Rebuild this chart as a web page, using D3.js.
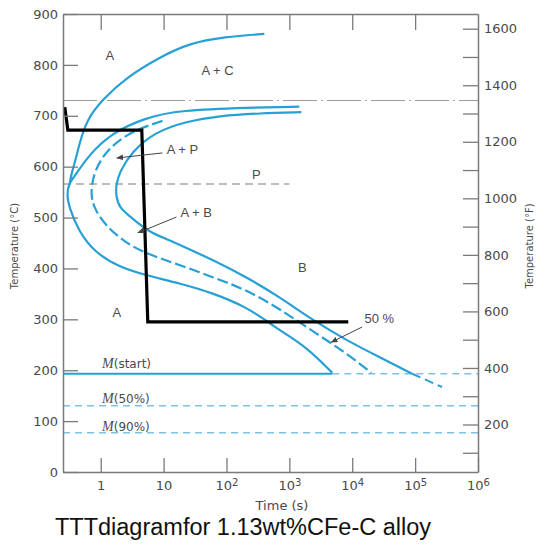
<!DOCTYPE html>
<html><head><meta charset="utf-8">
<script src="https://cdn.jsdelivr.net/npm/d3@7"></script>
<style>body{margin:0;background:#fff}svg{display:block}</style>
</head><body><svg id="c" width="538" height="544"></svg>
<script>
// ---- data (time in s, temperature in °C) ----
const timeTicks = [1, 10, 100, 1000, 10000, 100000, 1000000];
const timeTickLabels = ["1", "10", "10^2", "10^3", "10^4", "10^5", "10^6"];
const celsiusTicks = [0, 100, 200, 300, 400, 500, 600, 700, 800, 900];
const fahrenheitTicks = [100, 200, 300, 400, 500, 600, 700, 800, 900, 1000, 1100, 1200, 1300, 1400, 1500, 1600];

const acCurveT = [0.32, 0.34, 0.39, 0.46, 0.60, 1.04, 2.6, 8.6, 26, 93, 400];
const acCurveC = [566, 585, 609, 646, 692, 731, 776, 815, 843, 855, 861];

const startT = [1440, 232, 18, 5.0, 1.5, 0.645, 0.37, 0.31, 0.29, 0.31, 0.45, 0.80, 1.93, 5.0, 18, 60, 208, 482, 693, 1860, 4820];
const startC = [718, 716, 711, 696, 666, 623, 578, 566, 545, 522, 472, 432, 403, 387, 371, 352, 324, 293, 279, 246, 195];

const midT = [9.6, 2.8, 1.16, 0.80, 0.72, 0.71, 0.76, 1.16, 2.4, 5.0, 18, 60, 208, 693, 2320, 8030, 20000];
const midC = [690, 668, 629, 590, 564, 544, 522, 485, 452, 430, 407, 383, 358, 321, 277, 234, 195];

const endT = [1550, 334, 77, 23, 7.2, 3.1, 2.0, 1.75, 1.75, 1.95, 3.3, 5.8, 12, 21.5, 60, 208, 693, 2320, 8030, 26900, 89600];
const endC = [707, 705, 700, 689, 668, 629, 590, 564, 544, 519, 497, 472, 456, 442, 417, 383, 344, 299, 259, 226, 193];
const endDashT = [89600, 268000];
const endDashC = [193, 167];

const pathT = [0.268, 0.30, 4.5, 5.6, 8650];
const pathC = [717, 672, 672, 295, 295];

const eutectoidC = 730;
const pLineC = 566, pLineEndT = 1000;
const msC = 193, msEndT = 4820;
const m50C = 130, m90C = 77;

const regionLabels = ["A", "A + C", "A + P", "P", "A + B", "B", "A", "50 %"];
const regionT = [1.39, 72, 20, 299, 33, 1607, 1.8, 26900];
const regionC = [819, 790, 633, 584, 511, 401, 314, 301];

const leaderFromT = [9.6, 16, 14400];
const leaderFromC = [627, 501, 285];
const leaderToT = [1.8, 3.9, 4640];
const leaderToC = [617, 470, 255];

const mLabels = ["(start)", "(50%)", "(90%)"];
const mLabelC = [204, 136, 81];
const mLabelT = 1.05;

// ---- chart ----
const svg = d3.select("#c");
const x = d3.scaleLog().domain([Math.pow(10, -0.6), 1e6]).range([63, 478]);
const y = d3.scaleLinear().domain([0, 900]).range([472, 14]);
const yF = d3.scaleLinear().domain([32, 32 + 1.8 * 900]).range([472, 14]);

const blue = "#27a0d6", lightBlue = "#7cc3e3", axisCol = "#7a7a7a", textCol = "#4a4a4a";
const pts = (T, C) => T.map((t, i) => [t, C[i]]);
const line = d3.line().x(d => x(d[0])).y(d => y(d[1])).curve(d3.curveBasis);
const straight = d3.line().x(d => x(d[0])).y(d => y(d[1]));

// reference lines
const tMin = x.domain()[0], tMax = x.domain()[1];
svg.append("path").attr("d", straight([[tMin, eutectoidC], [tMax, eutectoidC]]))
  .attr("stroke", "#9a9a9a").attr("stroke-width", 1.2).attr("fill", "none")
  .attr("stroke-dasharray", "34,4,2,4");
svg.append("path").attr("d", straight([[tMin, pLineC], [pLineEndT, pLineC]]))
  .attr("stroke", "#a8a8a8").attr("stroke-width", 1.5).attr("fill", "none")
  .attr("stroke-dasharray", "8,5");
svg.append("path").attr("d", straight([[tMin, msC], [msEndT, msC]]))
  .attr("stroke", blue).attr("stroke-width", 2).attr("fill", "none");
svg.append("path").attr("d", straight([[msEndT, msC], [tMax, msC]]))
  .attr("stroke", lightBlue).attr("stroke-width", 1.5).attr("fill", "none").attr("stroke-dasharray", "7,5");
[m50C, m90C].forEach(c => {
  svg.append("path").attr("d", straight([[tMin, c], [tMax, c]]))
    .attr("stroke", lightBlue).attr("stroke-width", 1.5).attr("fill", "none").attr("stroke-dasharray", "7,5");
});

// curves
const curve = (T, C, dash) => svg.append("path").attr("d", line(pts(T, C)))
  .attr("stroke", blue).attr("stroke-width", 2.2).attr("fill", "none")
  .attr("stroke-dasharray", dash || null);
curve(acCurveT, acCurveC);
curve(startT, startC);
curve(midT, midC, "11,4");
curve(endT, endC);
svg.append("path").attr("d", straight(pts(endDashT, endDashC)))
  .attr("stroke", blue).attr("stroke-width", 2).attr("fill", "none").attr("stroke-dasharray", "9,5");

// cooling path
svg.append("path").attr("d", straight(pts(pathT, pathC)))
  .attr("stroke", "#000").attr("stroke-width", 3.2).attr("fill", "none").attr("stroke-linejoin", "miter");

// axes
const styleAxis = g => {
  g.select(".domain").attr("stroke", axisCol).attr("stroke-width", 1.5);
  g.selectAll(".tick line").attr("stroke", axisCol).attr("stroke-width", 1.3);
  g.selectAll(".tick text").attr("fill", textCol).attr("font-family", "DejaVu Sans").attr("font-size", 13);
};
svg.append("g").attr("transform", "translate(63,0)")
  .call(d3.axisLeft(y).tickValues(celsiusTicks).tickSizeInner(-15).tickSizeOuter(0).tickPadding(5))
  .call(styleAxis);
svg.append("g").attr("transform", "translate(478,0)")
  .call(d3.axisRight(yF).tickValues(fahrenheitTicks).tickSizeInner(-15).tickSizeOuter(0).tickPadding(6)
    .tickFormat(d => d % 200 === 0 ? d : ""))
  .call(styleAxis);
svg.append("g").attr("transform", "translate(0,14)")
  .call(d3.axisTop(x).tickValues(timeTicks.slice(0, 6)).tickSizeInner(-16).tickSizeOuter(0).tickFormat(""))
  .call(styleAxis);
const bx = svg.append("g").attr("transform", "translate(0,472)")
  .call(d3.axisBottom(x).tickValues(timeTicks).tickSizeInner(-14).tickSizeOuter(0).tickPadding(9)
    .tickFormat(() => ""))
  .call(styleAxis);
bx.selectAll(".tick text").each(function (d, i) {
  const parts = timeTickLabels[i].split("^");
  const t = d3.select(this);
  t.append("tspan").text(parts[0]);
  if (parts[1]) t.append("tspan").attr("dy", "-0.45em").attr("font-size", 10).text(parts[1]);
});

// axis titles
svg.append("text").attr("transform", "translate(18,246) rotate(-90)").attr("text-anchor", "middle")
  .attr("font-family", "DejaVu Sans").attr("font-size", 10).attr("fill", textCol).text("Temperature (°C)");
svg.append("text").attr("transform", "translate(533,246) rotate(-90)").attr("text-anchor", "middle")
  .attr("font-family", "DejaVu Sans").attr("font-size", 10).attr("fill", textCol).text("Temperature (°F)");
svg.append("text").attr("x", 282).attr("y", 510).attr("text-anchor", "middle")
  .attr("font-family", "DejaVu Sans").attr("font-size", 13).attr("fill", textCol).text("Time (s)");

// region labels
regionLabels.forEach((s, i) => {
  svg.append("text").attr("x", x(regionT[i])).attr("y", y(regionC[i])).attr("dy", "0.35em")
    .attr("text-anchor", "middle").attr("font-family", "Liberation Sans").attr("font-size", 13)
    .attr("fill", textCol).text(s);
});

// leader arrows
const defs = svg.append("defs");
defs.append("marker").attr("id", "ah").attr("viewBox", "0 0 10 10").attr("refX", 9).attr("refY", 5)
  .attr("markerWidth", 7).attr("markerHeight", 7).attr("orient", "auto")
  .append("path").attr("d", "M0,1 L10,5 L0,9 Z").attr("fill", "#444");
leaderFromT.forEach((t, i) => {
  svg.append("line").attr("x1", x(t)).attr("y1", y(leaderFromC[i]))
    .attr("x2", x(leaderToT[i])).attr("y2", y(leaderToC[i]))
    .attr("stroke", "#444").attr("stroke-width", 1).attr("marker-end", "url(#ah)");
});

// M labels
mLabels.forEach((s, i) => {
  const t = svg.append("text").attr("x", x(mLabelT)).attr("y", y(mLabelC[i]))
    .attr("fill", textCol).attr("font-size", 12);
  t.append("tspan").attr("font-family", "Liberation Serif").attr("font-style", "italic")
    .attr("font-size", 14).text("M");
  t.append("tspan").attr("font-family", "DejaVu Sans").text(s);
});

// title
svg.append("text").attr("x", 243).attr("y", 535).attr("text-anchor", "middle")
  .attr("font-family", "Liberation Sans").attr("font-size", 23.5).attr("fill", "#111")
  .text("TTTdiagramfor 1.13wt%CFe-C alloy");
</script></body></html>
